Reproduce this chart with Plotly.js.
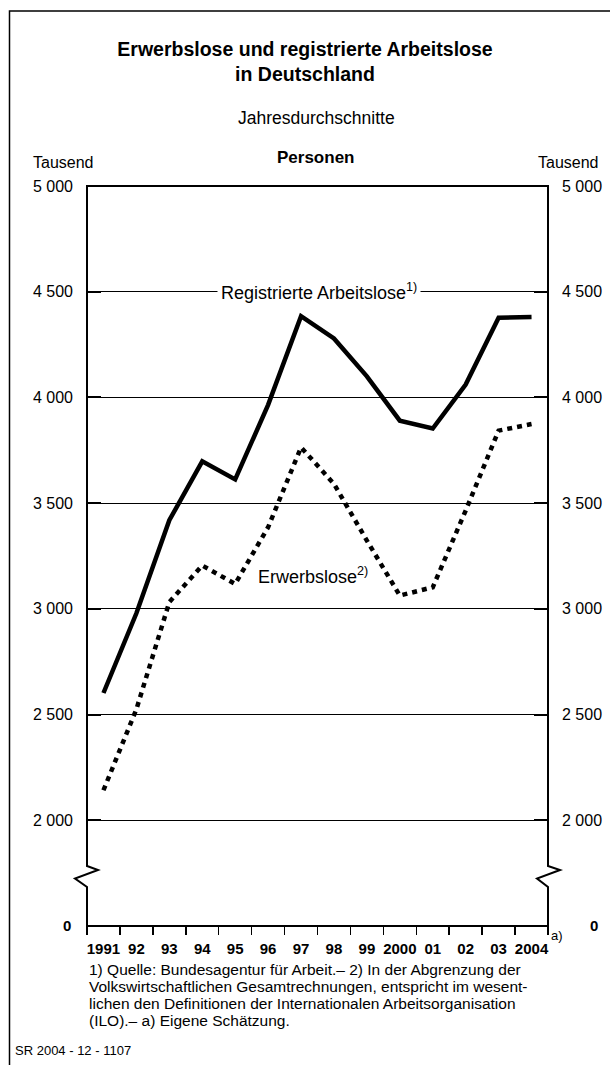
<!DOCTYPE html>
<html>
<head>
<meta charset="utf-8">
<script src="https://cdn.plot.ly/plotly-3.0.1.min.js"></script>
<style>html,body{margin:0;padding:0;background:#fff;}#chart{width:610px;height:1065px;}</style>
</head>
<body>
<div id="chart"></div>
<script>
// ---- data ----
const years = [1991, 1992, 1993, 1994, 1995, 1996, 1997, 1998, 1999, 2000, 2001, 2002, 2003, 2004];
const yearLabels = ['1991', '92', '93', '94', '95', '96', '97', '98', '99', '2000', '01', '02', '03', '2004'];
const registrierte = [2602, 2979, 3419, 3698, 3612, 3965, 4384, 4279, 4100, 3890, 3853, 4061, 4377, 4380];
const erwerbslose = [2142, 2525, 3032, 3205, 3118, 3386, 3764, 3591, 3323, 3063, 3102, 3465, 3843, 3874];
const yTickVals = [2000, 2500, 3000, 3500, 4000, 4500, 5000];
const yTickText = ['2 000', '2 500', '3 000', '3 500', '4 000', '4 500', '5 000'];
const footnoteLines = [
  '1) Quelle: Bundesagentur für Arbeit.– 2) In der Abgrenzung der',
  'Volkswirtschaftlichen Gesamtrechnungen, entspricht im wesent-',
  'lichen den Definitionen der Internationalen Arbeitsorganisation',
  '(ILO).– a) Eigene Schätzung.'
];

// ---- geometry helpers (pixel -> paper) ----
const W = 610, H = 1065;
const mL = 87, mR = 62, mT = 186, mB = 139;
const pw = W - mL - mR, ph = H - mT - mB;
const px = v => (v - mL) / pw;
const py = v => (H - mB - v) / ph;
const pt = (x, y) => px(x).toFixed(5) + ',' + py(y).toFixed(5);

const boundaries = years.map(y => y - 0.5).concat([years[years.length - 1] + 0.5]);
const FONT = 'Liberation Sans, Arial, Helvetica, sans-serif';

const traces = [
  {
    x: years, y: registrierte, type: 'scatter', mode: 'lines',
    line: {color: '#000', width: 4.5}, hoverinfo: 'skip', showlegend: false
  },
  {
    x: years, y: erwerbslose, type: 'scatter', mode: 'lines',
    line: {color: '#000', width: 4.5, dash: '5px,5px'}, hoverinfo: 'skip', showlegend: false
  },
  {
    x: years, y: registrierte, type: 'scatter', mode: 'lines', yaxis: 'y2',
    line: {color: 'rgba(0,0,0,0)', width: 0}, hoverinfo: 'skip', showlegend: false
  }
];

const yCommon = {
  range: [1500, 5000], tickmode: 'array', tickvals: yTickVals, ticktext: yTickText,
  ticks: 'inside', ticklen: 14, tickwidth: 2, tickcolor: '#000',
  showline: false, zeroline: false, tickfont: {size: 16, color: '#000'},
  ticklabelstandoff: 13, fixedrange: true
};

const framePath =
  'M' + pt(mL, mT) +
  ' L' + pt(mL, 866) + ' L' + pt(98, 870) + ' L' + pt(75, 878.5) + ' L' + pt(mL, 887) +
  ' L' + pt(mL, H - mB) + ' L' + pt(W - mR, H - mB) +
  ' L' + pt(W - mR, 887) + ' L' + pt(W - mR - 11, 878.5) + ' L' + pt(W - mR + 12, 870) + ' L' + pt(W - mR, 866) +
  ' L' + pt(W - mR, mT) + ' Z';

const borderPath = 'M' + pt(9.5, H + 5) + ' L' + pt(9.5, 11) + ' L' + pt(W + 5, 11);

const annotations = [
  {text: 'Jahresdurchschnitte', xref: 'paper', yref: 'paper', x: px(316), y: py(118), xanchor: 'center', yanchor: 'middle', showarrow: false, font: {size: 17.5}},
  {text: '<b>Personen</b>', xref: 'paper', yref: 'paper', x: px(315), y: py(158), xanchor: 'center', yanchor: 'middle', showarrow: false, font: {size: 17}},
  {text: 'Tausend', xref: 'paper', yref: 'paper', x: px(31), y: py(162.5), xanchor: 'left', yanchor: 'middle', showarrow: false, font: {size: 16}},
  {text: 'Tausend', xref: 'paper', yref: 'paper', x: px(601), y: py(162.5), xanchor: 'right', yanchor: 'middle', showarrow: false, font: {size: 16}},
  {text: '<b>0</b>', xref: 'paper', yref: 'paper', x: px(66.5), y: py(925), xanchor: 'center', yanchor: 'middle', showarrow: false, font: {size: 15}},
  {text: '<b>0</b>', xref: 'paper', yref: 'paper', x: px(594), y: py(925), xanchor: 'center', yanchor: 'middle', showarrow: false, font: {size: 15}},
  {text: 'a)', xref: 'paper', yref: 'paper', x: px(549), y: py(935), xanchor: 'left', yanchor: 'middle', showarrow: false, font: {size: 13}},
  {text: 'Registrierte Arbeitslose<sup>1)</sup>', xref: 'x', yref: 'y', x: 1997.55, y: 4500, xanchor: 'center', yanchor: 'middle', showarrow: false, font: {size: 18}, bgcolor: '#fff', borderpad: 3},
  {text: 'Erwerbslose<sup>2)</sup>', xref: 'x', yref: 'y', x: 1997.36, y: 3160, xanchor: 'center', yanchor: 'middle', showarrow: false, font: {size: 18}},
  {text: 'SR 2004 - 12 - 1107', xref: 'paper', yref: 'paper', x: px(13), y: py(1050), xanchor: 'left', yanchor: 'middle', showarrow: false, font: {size: 13}}
];
footnoteLines.forEach((t, i) => {
  annotations.push({text: t, xref: 'paper', yref: 'paper', x: px(87), y: py(969 + i * 17), xanchor: 'left', yanchor: 'middle', align: 'left', showarrow: false, font: {size: 15.5}});
});

const layout = {
  width: W, height: H,
  margin: {l: mL, r: mR, t: mT, b: mB, pad: 0},
  paper_bgcolor: '#fff', plot_bgcolor: '#fff',
  font: {family: FONT, color: '#000'},
  showlegend: false,
  title: {
    text: '<b>Erwerbslose und registrierte Arbeitslose<br>in Deutschland</b>',
    font: {size: 19.5, family: FONT, color: '#000'},
    x: 0.5, xref: 'container', xanchor: 'center',
    y: 1 - 56 / H, yref: 'container', yanchor: 'middle'
  },
  xaxis: {
    range: [1990.5, 2004.5], tickmode: 'array', tickvals: years,
    ticktext: yearLabels.map(t => '<b>' + t + '</b>'),
    ticks: '', showgrid: false, zeroline: false, showline: false,
    tickfont: {size: 15, color: '#000'}, ticklabelstandoff: 12,
    minor: {tickmode: 'array', tickvals: boundaries, ticks: 'outside', ticklen: 8, tickwidth: 1.5, tickcolor: '#000', showgrid: false},
    fixedrange: true
  },
  yaxis: Object.assign({}, yCommon, {side: 'left', showgrid: true, gridcolor: '#000', gridwidth: 1}),
  yaxis2: Object.assign({}, yCommon, {side: 'right', overlaying: 'y', showgrid: false}),
  shapes: [
    {type: 'path', xref: 'paper', yref: 'paper', path: framePath, line: {color: '#000', width: 2}, fillcolor: 'rgba(0,0,0,0)', layer: 'above'},
    {type: 'path', xref: 'paper', yref: 'paper', path: borderPath, line: {color: '#000', width: 1.5}, fillcolor: 'rgba(0,0,0,0)', layer: 'above'}
  ],
  annotations: annotations
};

Plotly.newPlot('chart', traces, layout, {displayModeBar: false, staticPlot: true});
</script>
</body>
</html>
